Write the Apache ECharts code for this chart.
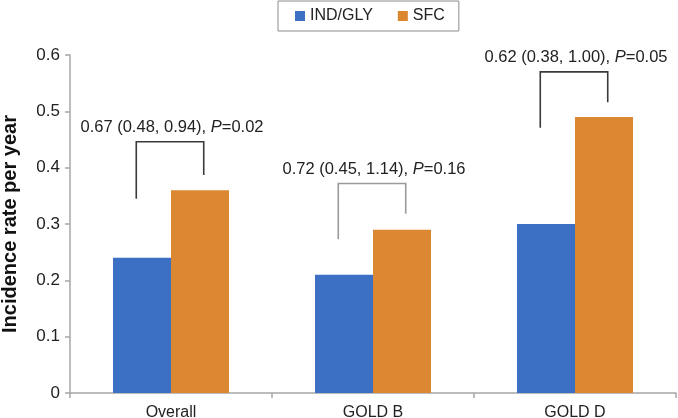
<!DOCTYPE html>
<html>
<head>
<meta charset="utf-8">
<script src="https://cdn.jsdelivr.net/npm/echarts@6/dist/echarts.min.js"></script>
<style>
html,body{margin:0;padding:0;background:#fff;}
#chart{width:678px;height:418px;}
</style>
</head>
<body>
<div id="chart"></div>
<script>
// ---- data ----
const categories = ['Overall', 'GOLD B', 'GOLD D'];
const seriesNames = ['IND/GLY', 'SFC'];
const indGly = [0.24, 0.21, 0.30];
const sfc = [0.36, 0.29, 0.49];
const yTicks = [0, 0.1, 0.2, 0.3, 0.4, 0.5, 0.6];
// comparison brackets: top, left leg end, right leg end (in y units)
const bracketTop = [0.446, 0.372, 0.570];
const bracketLeftEnd = [0.345, 0.273, 0.471];
const bracketRightEnd = [0.387, 0.318, 0.516];
const ratioText = ['0.67 (0.48, 0.94), ', '0.72 (0.45, 1.14), ', '0.62 (0.38, 1.00), '];
const pText = ['=0.02', '=0.16', '=0.05'];

// ---- styles ----
const bracketStroke = ['#3a3a3a', '#9a9a9a', '#3a3a3a'];
const FONT = 'Liberation Sans, Arial, sans-serif';

const chart = echarts.init(document.getElementById('chart'));

const bracketData = categories.map((c, i) => [i, bracketTop[i], bracketLeftEnd[i], bracketRightEnd[i]]);

const option = {
  animation: false,
  backgroundColor: '#fff',
  textStyle: { fontFamily: FONT },
  legend: {
    data: seriesNames,
    left: 278,
    top: 1,
    padding: [7, 14, 7, 17],
    itemGap: 25,
    itemWidth: 10,
    itemHeight: 10,
    borderColor: '#8c8c8c',
    borderWidth: 1,
    icon: 'rect',
    textStyle: { fontSize: 16, color: '#222', fontFamily: FONT }
  },
  grid: { left: 70, right: 2, top: 55, bottom: 25, containLabel: false, outerBoundsMode: 'none' },
  xAxis: {
    type: 'category',
    data: categories,
    axisLine: { lineStyle: { color: '#a6a6a6', width: 1.5 } },
    axisTick: { show: true, length: 5, lineStyle: { color: '#a6a6a6', width: 1.5 } },
    axisLabel: { fontSize: 16, color: '#222', margin: 12, fontFamily: FONT }
  },
  yAxis: {
    type: 'value',
    min: 0,
    max: 0.6,
    interval: 0.1,
    name: 'Incidence rate per year',
    nameLocation: 'middle',
    nameGap: 50,
    nameRotate: 90,
    nameTextStyle: { fontSize: 20, fontWeight: 'bold', color: '#111', fontFamily: FONT },
    axisLine: { show: true, lineStyle: { color: '#a6a6a6', width: 1.5 } },
    axisTick: { show: true, length: 5, lineStyle: { color: '#a6a6a6', width: 1.5 } },
    splitLine: { show: false },
    axisLabel: {
      fontSize: 17, color: '#222', margin: 10, fontFamily: FONT,
      formatter: v => {
        const t = yTicks.find(k => Math.abs(k - v) < 1e-9);
        return t === 0 ? '0' : String(t);
      }
    }
  },
  series: [
    {
      name: seriesNames[0], type: 'bar', data: indGly,
      barWidth: 58, barGap: '0%',
      itemStyle: { color: '#3b70c5' }
    },
    {
      name: seriesNames[1], type: 'bar', data: sfc,
      barWidth: 58, barGap: '0%',
      itemStyle: { color: '#dc8732' }
    },
    {
      type: 'custom',
      data: bracketData,
      silent: true,
      z: 10,
      renderItem: (params, api) => {
        const i = api.value(0);
        const top = api.coord([i, api.value(1)]);
        const band = api.size([1, 0])[0];
        const half = band * 0.167;
        const cx = top[0] - 1;
        const xl = cx - half, xr = cx + half;
        const yL = api.coord([i, api.value(2)])[1];
        const yR = api.coord([i, api.value(3)])[1];
        return {
          type: 'group',
          children: [
            {
              type: 'polyline',
              shape: { points: [[xl, yL], [xl, top[1]], [xr, top[1]], [xr, yR]] },
              style: { stroke: bracketStroke[i], lineWidth: 1.6, fill: null }
            },
            {
              type: 'text',
              x: top[0] + 1,
              y: top[1] - 14,
              style: {
                text: '{a|' + ratioText[i] + '}{p|P}{a|' + pText[i] + '}',
                align: 'center',
                verticalAlign: 'middle',
                rich: {
                  a: { fontSize: 16.5, fill: '#222', fontFamily: FONT },
                  p: { fontSize: 16.5, fill: '#222', fontStyle: 'italic', fontFamily: FONT }
                }
              }
            }
          ]
        };
      }
    }
  ]
};
chart.setOption(option);
</script>
</body>
</html>
